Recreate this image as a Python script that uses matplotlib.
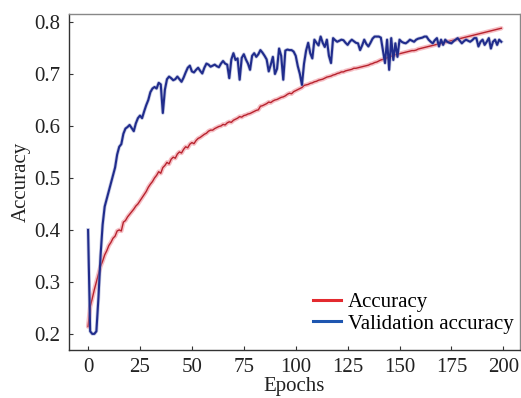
import matplotlib.pyplot as plt
import numpy as np
from matplotlib.lines import Line2D

# === DATA ===
epochs = np.arange(200)

train_acc = [
    0.214, 0.252, 0.268, 0.285, 0.300, 0.315, 0.330, 0.340, 0.352, 0.360,
    0.370, 0.376, 0.384, 0.388, 0.398, 0.400, 0.398, 0.415, 0.418, 0.425,
    0.430, 0.435, 0.440, 0.446, 0.450, 0.456, 0.462, 0.468, 0.474, 0.482,
    0.488, 0.493, 0.500, 0.505, 0.512, 0.509, 0.520, 0.524, 0.530, 0.527,
    0.536, 0.540, 0.538, 0.546, 0.550, 0.548, 0.555, 0.560, 0.558, 0.565,
    0.568, 0.566, 0.572, 0.576, 0.578, 0.581, 0.584, 0.586, 0.590, 0.592,
    0.592, 0.595, 0.597, 0.599, 0.600, 0.603, 0.602, 0.606, 0.608, 0.607,
    0.611, 0.613, 0.615, 0.618, 0.617, 0.620, 0.621, 0.623, 0.624, 0.626,
    0.628, 0.630, 0.631, 0.638, 0.639, 0.641, 0.643, 0.646, 0.645, 0.648,
    0.650, 0.651, 0.653, 0.655, 0.656, 0.658, 0.661, 0.663, 0.662, 0.666,
    0.668, 0.670, 0.672, 0.674, 0.678, 0.679, 0.680, 0.682, 0.683, 0.685,
    0.686, 0.688, 0.689, 0.690, 0.692, 0.694, 0.695, 0.696, 0.698, 0.699,
    0.701, 0.702, 0.704, 0.704, 0.706, 0.707, 0.708, 0.709, 0.711, 0.711,
    0.712, 0.713, 0.714, 0.715, 0.716, 0.717, 0.719, 0.720, 0.722, 0.723,
    0.725, 0.727, 0.728, 0.730, 0.731, 0.733, 0.734, 0.736, 0.737, 0.738,
    0.739, 0.740, 0.741, 0.742, 0.743, 0.744, 0.745, 0.745, 0.746, 0.748,
    0.749, 0.750, 0.751, 0.752, 0.753, 0.754, 0.755, 0.756, 0.757, 0.758,
    0.759, 0.760, 0.761, 0.762, 0.763, 0.764, 0.765, 0.766, 0.767, 0.768,
    0.769, 0.770, 0.771, 0.772, 0.773, 0.774, 0.775, 0.776, 0.777, 0.778,
    0.779, 0.780, 0.781, 0.782, 0.783, 0.784, 0.785, 0.786, 0.787, 0.788,
]

val_acc = [
    0.400, 0.205, 0.200, 0.200, 0.205, 0.270, 0.350, 0.410, 0.445, 0.460,
    0.475, 0.490, 0.505, 0.520, 0.545, 0.560, 0.565, 0.585, 0.595, 0.598,
    0.602, 0.596, 0.590, 0.605, 0.615, 0.620, 0.615, 0.628, 0.640, 0.650,
    0.665, 0.672, 0.675, 0.672, 0.683, 0.680, 0.625, 0.670, 0.690, 0.695,
    0.692, 0.688, 0.690, 0.695, 0.690, 0.685, 0.693, 0.703, 0.712, 0.716,
    0.705, 0.703, 0.708, 0.712, 0.706, 0.701, 0.712, 0.720, 0.718, 0.714,
    0.716, 0.718, 0.715, 0.713, 0.720, 0.725, 0.720, 0.718, 0.692, 0.728,
    0.740, 0.727, 0.730, 0.689, 0.731, 0.738, 0.728, 0.720, 0.708, 0.735,
    0.740, 0.733, 0.738, 0.746, 0.741, 0.735, 0.728, 0.705, 0.718, 0.733,
    0.700, 0.710, 0.749, 0.735, 0.689, 0.745, 0.747, 0.746, 0.746, 0.743,
    0.735, 0.715, 0.700, 0.679, 0.720, 0.745, 0.760, 0.740, 0.730, 0.766,
    0.760, 0.755, 0.772, 0.760, 0.752, 0.766, 0.735, 0.721, 0.769, 0.765,
    0.762, 0.764, 0.766, 0.765, 0.760, 0.756, 0.762, 0.766, 0.763, 0.760,
    0.759, 0.746, 0.755, 0.766, 0.758, 0.753, 0.760, 0.768, 0.772, 0.772,
    0.772, 0.770, 0.746, 0.721, 0.766, 0.708, 0.769, 0.727, 0.759, 0.733,
    0.766, 0.762, 0.760, 0.759, 0.762, 0.766, 0.764, 0.762, 0.766, 0.768,
    0.769, 0.770, 0.772, 0.772, 0.766, 0.762, 0.759, 0.765, 0.769, 0.753,
    0.766, 0.756, 0.766, 0.762, 0.760, 0.759, 0.763, 0.766, 0.769, 0.764,
    0.759, 0.763, 0.766, 0.764, 0.762, 0.765, 0.769, 0.769, 0.753, 0.762,
    0.766, 0.756, 0.762, 0.769, 0.749, 0.762, 0.766, 0.756, 0.766, 0.762,
]

x_ticks = [0, 25, 50, 75, 100, 125, 150, 175, 200]
y_ticks = [0.2, 0.3, 0.4, 0.5, 0.6, 0.7, 0.8]

plt.rcParams["font.family"] = ["Liberation Serif", "DejaVu Serif"]
plt.rcParams["font.size"] = 15

fig = plt.figure(figsize=(5.21, 3.98), dpi=100)
ax = fig.add_axes([0.1324, 0.1206, 0.8656, 0.8442])

# glow under the training curve, then the curves themselves
ax.plot(epochs, train_acc, color="#f2a3ab", linewidth=3.2, alpha=0.7, solid_capstyle="round")
ax.plot(epochs, train_acc, color="#b8232e", linewidth=1.0)
ax.plot(epochs, val_acc, color="#8f96c8", linewidth=2.6, alpha=0.5)
ax.plot(epochs, val_acc, color="#202c8c", linewidth=1.5)

ax.set_xlim(-9.2, 208)
ax.set_ylim(0.169, 0.8154)
ax.set_xticks(x_ticks)
ax.set_yticks(y_ticks)
ax.set_yticklabels([f"{v:.1f}" for v in y_ticks])

ax.tick_params(direction="in", length=3, width=0.8, colors="#333333", labelcolor="#222222", pad=6)
for side in ["left", "bottom"]:
    ax.spines[side].set_color("#333333")
    ax.spines[side].set_linewidth(1.0)
for side in ["top", "right"]:
    ax.spines[side].set_color("#888888")
    ax.spines[side].set_linewidth(1.0)

ax.set_xlabel("Epochs", labelpad=0, color="#222222")
ax.set_ylabel("Accuracy", labelpad=3, color="#222222")

handles = [
    Line2D([], [], color="#e32a2f", linewidth=2.2),
    Line2D([], [], color="#1e56b0", linewidth=2.2),
]
ax.legend(
    handles,
    ["Accuracy", "Validation accuracy"],
    loc="lower right",
    bbox_to_anchor=(1.004, 0.024),
    frameon=False,
    handlelength=1.35,
    handletextpad=0.3,
    labelspacing=0.1,
    borderaxespad=0.0,
    fontsize=15,
)

fig.savefig("out.png", dpi=100)
